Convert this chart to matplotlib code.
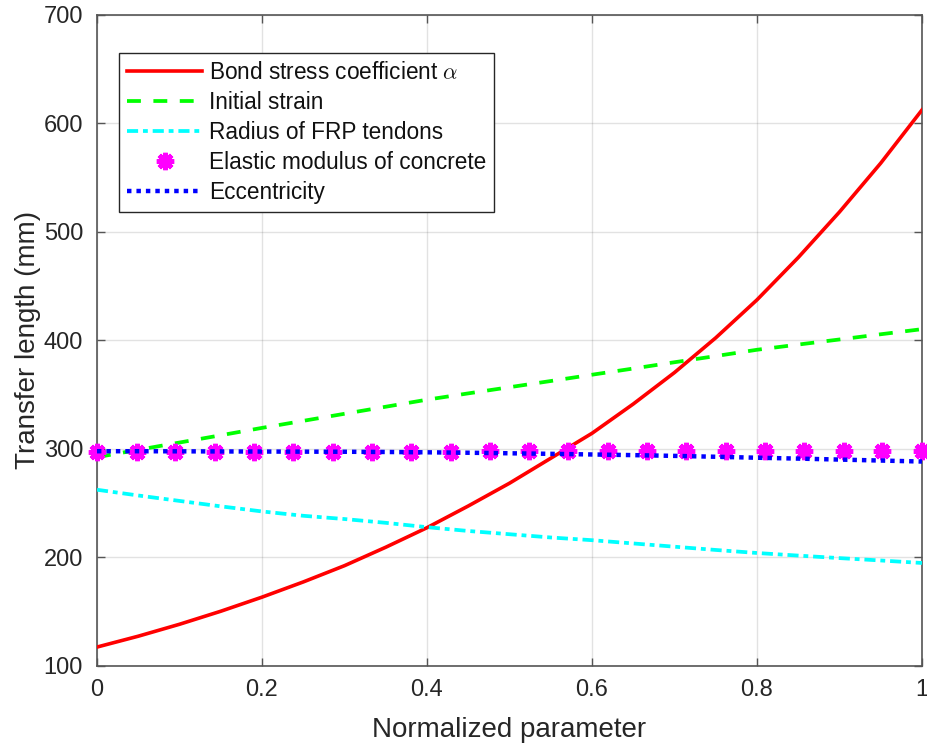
import matplotlib
matplotlib.use("Agg")
import matplotlib.pyplot as plt

plt.rcParams['font.family'] = ['Liberation Sans', 'DejaVu Sans']
plt.rcParams['mathtext.fontset'] = 'cm'
plt.rcParams['lines.scale_dashes'] = False

# ---- data ----
x_curve = [0.00, 0.05, 0.10, 0.15, 0.20, 0.25, 0.30, 0.35, 0.40, 0.45, 0.50,
           0.55, 0.60, 0.65, 0.70, 0.75, 0.80, 0.85, 0.90, 0.95, 1.00]
bond_stress = [117, 127, 138, 150, 163, 177, 192, 209, 227, 247, 268,
               291, 314, 341, 370, 402, 437, 476, 518, 563, 612]
initial_strain = [292, 298.8, 305.5, 312.2, 319, 325.5, 332, 338.5, 345, 350.8, 356.5,
                  362.2, 368, 373.7, 379.5, 385.2, 391, 395.8, 400.5, 405.3, 410]
frp_radius = [262, 256.7, 251.7, 246.7, 242, 238, 235, 231.5, 227.5, 224, 221,
              218, 215.5, 212.5, 209.5, 206.5, 203.7, 201.3, 199, 196.8, 194.5]
eccentricity = [297.5, 297.5, 297.4, 297.3, 297.2, 297.1, 297.0, 296.8, 296.5, 296.1, 295.6,
                295.1, 294.5, 293.9, 293.2, 292.4, 291.5, 290.7, 289.8, 288.9, 288.0]

x_marker = [0.000, 0.048, 0.095, 0.143, 0.190, 0.238, 0.286, 0.333, 0.381, 0.429, 0.476,
            0.524, 0.571, 0.619, 0.667, 0.714, 0.762, 0.810, 0.857, 0.905, 0.952, 1.000]
elastic_modulus = [296.5, 296.6, 296.7, 296.8, 296.9, 297.0, 297.0, 297.1, 297.2, 297.2, 297.3,
                   297.4, 297.4, 297.5, 297.6, 297.6, 297.7, 297.8, 297.8, 297.9, 298.0, 298.0]

labels = ['Bond stress coefficient $\\alpha$', 'Initial strain', 'Radius of FRP tendons',
          'Elastic modulus of concrete', 'Eccentricity']
x_ticks = [0, 0.2, 0.4, 0.6, 0.8, 1]
x_ticklabels = ['0', '0.2', '0.4', '0.6', '0.8', '1']
y_ticks = [100, 200, 300, 400, 500, 600, 700]

# ---- figure ----
fig = plt.figure(figsize=(9.28, 7.44), dpi=100)
ax = fig.add_axes([0.1045, 0.1055, 0.889, 0.875])

axc = '#262626'
ax.plot(x_curve, bond_stress, color='#FF0000', lw=2.6, label=labels[0], zorder=3)
ax.plot(x_curve, initial_strain, color='#00FF00', lw=2.7, linestyle=(0, (10, 9)),
        label=labels[1], zorder=3)
ax.plot(x_curve, frp_radius, color='#00FFFF', lw=2.7, linestyle=(0, (8, 3.5, 3.5, 3.5)),
        label=labels[2], zorder=3)
ax.plot(x_marker, elastic_modulus, linestyle='none', marker=(8, 2, 0), ms=12.5, mew=3.4,
        color='#FF00FF', mec='#FF00FF', label=labels[3], zorder=4, clip_on=False)
ax.plot(x_marker, elastic_modulus, linestyle='none', marker='o', ms=9,
        color='#FF00FF', mec='none', zorder=4, clip_on=False)
ax.plot(x_curve, eccentricity, color='#0000FF', lw=3.2, linestyle=(0, (3.2, 3.6)),
        dash_capstyle='butt', label=labels[4], zorder=5)

ax.set_xlim(0, 1)
ax.set_ylim(100, 700)
ax.set_xticks(x_ticks)
ax.set_xticklabels(x_ticklabels)
ax.set_yticks(y_ticks)

ax.grid(True, color='#262626', alpha=0.13, lw=1.0)
ax.set_axisbelow(True)
for s in ax.spines.values():
    s.set_color('#555555')
    s.set_linewidth(1.2)
ax.tick_params(direction='in', length=6, width=1.0, colors='#555555', labelcolor=axc,
               labelsize=17, top=True, right=True, pad=10)

ax.set_xlabel('Normalized parameter', fontsize=20, color=axc, labelpad=11)
ax.set_ylabel('Transfer length (mm)', fontsize=20, color=axc, labelpad=2)

handles, labs = ax.get_legend_handles_labels()
leg = ax.legend(handles, labs, loc='upper left', bbox_to_anchor=(0.0267, 0.941),
                borderaxespad=0, fontsize=16.3, handlelength=3.3, handletextpad=0.3,
                labelspacing=0.31, borderpad=0.36, frameon=True, fancybox=False,
                framealpha=1, edgecolor='#262626')
leg.get_frame().set_linewidth(1.0)
for t in leg.get_texts():
    t.set_color('#111111')

fig.savefig('out.png', dpi=100)
